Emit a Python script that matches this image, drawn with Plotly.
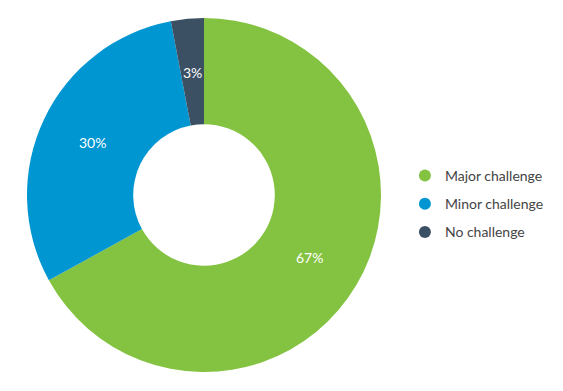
import math
import plotly.graph_objects as go

categories = ["Major challenge", "Minor challenge", "No challenge"]
values = [67, 30, 3]
colors = ["#84c341", "#0096d1", "#3c5064"]

W, H = 563, 391
# pie geometry (paper pixels)
cx_px, cy_px, r_out = 196, 187, 177
dom_x = [(cx_px - r_out) / W, (cx_px + r_out) / W]
dom_y = [(H - cy_px - r_out) / H, (H - cy_px + r_out) / H]

fig = go.Figure()
fig.add_trace(go.Pie(
    labels=categories, values=values, hole=0.4, sort=False,
    direction="clockwise", rotation=0,
    marker=dict(colors=colors, line=dict(width=0)),
    textinfo="none",
    showlegend=False, hoverinfo="label+percent",
    domain=dict(x=dom_x, y=dom_y),
))
for c, col in zip(categories, colors):
    fig.add_trace(go.Scatter(
        x=[None], y=[None], mode="markers", name=c,
        marker=dict(symbol="circle", size=12, color=col),
        legendgroup=c,
    ))

# percentage labels at slice mid-angles
total = sum(values)
cum = 0
r_lab = 123
for v in values:
    mid = (cum + v / 2) / total * 2 * math.pi
    cum += v
    x = (cx_px + r_lab * math.sin(mid)) / W
    y = (H - cy_px + r_lab * math.cos(mid)) / H
    fig.add_annotation(x=x, y=y, xref="paper", yref="paper",
                       xanchor="center", yanchor="middle",
                       text=f"{round(v / total * 100)}%", showarrow=False,
                       font=dict(color="white", size=14, family="Lato"))

fig.update_layout(
    width=W, height=H,
    margin=dict(l=0, r=0, t=0, b=0),
    paper_bgcolor="white", plot_bgcolor="white",
    xaxis=dict(visible=False), yaxis=dict(visible=False),
    legend=dict(x=0.705, y=0.499, xanchor="left", yanchor="middle",
                font=dict(size=14, color="#444444", family="Lato"),
                tracegroupgap=7, traceorder="grouped", itemwidth=30),
    font=dict(family="Lato"),
)
fig.write_html("out.html")
